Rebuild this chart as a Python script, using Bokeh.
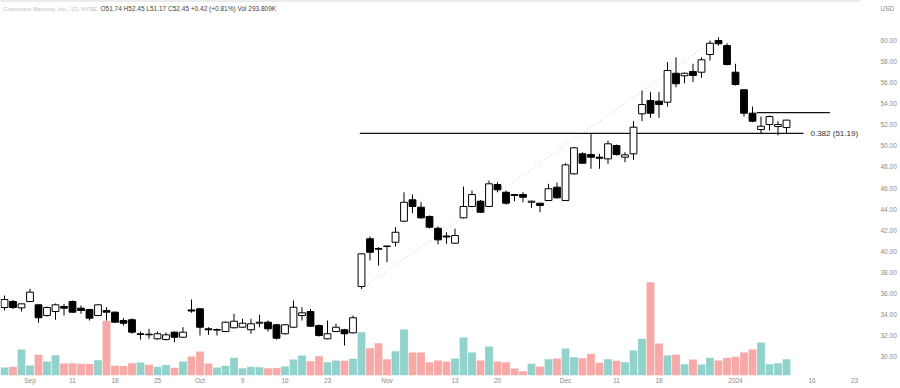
from bokeh.plotting import figure
from bokeh.models import Range1d, FixedTicker, ColumnDataSource, NumeralTickFormatter
from bokeh.embed import file_html
from bokeh.resources import INLINE
from bokeh.core.properties import value

# ---------------- data (daily bars, 29 Aug 2023 .. 10 Jan 2024) ----------------
opens = [34.65, 35.22, 34.62, 35.22, 34.91, 33.89, 34.27, 34.75, 35.22, 34.59,
         34.46, 33.89, 34.37, 34.21, 33.42, 33.49, 32.09, 32.12, 31.68, 31.61,
         32.31, 31.83, 34.42, 34.53, 32.63, 32.50, 32.37, 32.73, 32.78, 32.54,
         33.16, 33.26, 33.01, 32.16, 32.78, 33.89, 34.27, 32.94, 31.68, 32.37,
         32.54, 32.25, 36.65, 41.18, 40.26, 40.49, 40.85, 42.85, 44.88, 44.18,
         43.30, 42.18, 41.44, 40.76, 43.17, 44.25, 44.75, 44.25, 46.33, 45.60,
         45.38, 45.38, 44.65, 44.56, 44.81, 46.08, 44.81, 47.35, 49.25, 49.18,
         48.93, 48.77, 50.04, 48.93, 49.25, 53.05, 54.31, 54.25, 54.15, 56.90,
         56.66, 57.07, 57.00, 58.68, 60.01, 59.53, 57.00, 55.33, 53.11, 51.56,
         52.03, 51.84, 51.74]
highs = [35.79, 35.37, 35.03, 36.43, 34.94, 34.75, 35.03, 35.00, 35.32, 34.84,
         34.51, 34.94, 34.68, 34.27, 33.64, 33.64, 32.37, 32.63, 32.37, 32.28,
         32.37, 32.78, 35.41, 34.61, 32.78, 32.66, 33.32, 34.06, 33.58, 33.58,
         33.96, 33.42, 33.11, 33.09, 35.32, 34.68, 34.53, 33.04, 33.42, 33.11,
         32.63, 33.89, 39.83, 41.40, 40.38, 40.54, 42.28, 45.60, 45.38, 44.65,
         43.39, 42.35, 41.80, 42.13, 46.14, 45.76, 44.86, 46.71, 46.55, 45.76,
         45.43, 45.60, 44.81, 44.58, 46.40, 46.52, 48.36, 49.90, 49.40, 51.21,
         49.25, 50.51, 50.13, 49.40, 52.35, 55.26, 55.10, 55.10, 57.95, 58.42,
         56.97, 57.80, 58.42, 60.01, 60.32, 59.75, 57.80, 55.36, 53.74, 52.79,
         52.89, 52.35, 52.45]
lows = [34.37, 34.51, 34.27, 35.18, 33.20, 33.80, 33.49, 33.89, 34.15, 34.06,
        33.42, 33.85, 33.42, 33.20, 32.94, 32.16, 31.61, 31.68, 31.61, 31.52,
        31.36, 31.76, 34.15, 31.99, 32.06, 31.99, 32.33, 32.66, 32.73, 32.16,
        32.78, 32.37, 31.61, 32.09, 32.73, 33.42, 32.80, 31.90, 31.63, 32.33,
        31.04, 32.18, 36.42, 39.12, 38.64, 38.96, 40.45, 42.75, 43.61, 43.08,
        42.16, 40.64, 40.70, 40.73, 43.11, 44.18, 43.63, 44.20, 45.60, 44.43,
        44.75, 44.65, 44.12, 43.70, 44.77, 45.00, 44.77, 47.28, 48.30, 47.83,
        47.83, 48.30, 49.09, 48.45, 48.68, 52.35, 52.67, 52.67, 53.74, 55.57,
        55.95, 56.05, 56.47, 58.11, 59.53, 57.64, 55.74, 52.79, 52.25, 51.15,
        51.46, 50.99, 51.17]
closes = [35.41, 34.65, 35.00, 36.11, 33.68, 34.65, 34.91, 34.59, 34.21, 34.37,
          33.64, 34.91, 34.21, 33.26, 33.16, 32.31, 32.16, 32.06, 32.16, 32.06,
          31.83, 32.31, 34.32, 32.78, 32.54, 32.56, 33.26, 33.35, 33.16, 33.11,
          33.26, 32.63, 31.74, 33.01, 34.68, 34.15, 32.88, 31.99, 32.16, 32.78,
          32.16, 33.68, 39.75, 39.90, 40.19, 40.45, 41.80, 44.65, 44.25, 43.17,
          42.28, 41.08, 41.35, 41.49, 44.25, 45.38, 43.70, 46.40, 45.83, 44.56,
          45.29, 45.13, 44.75, 44.34, 45.93, 45.07, 48.20, 49.82, 48.36, 48.93,
          48.83, 50.20, 49.18, 49.15, 51.78, 53.93, 53.11, 53.93, 57.16, 55.90,
          56.90, 56.69, 58.18, 59.75, 59.70, 57.73, 55.83, 53.11, 52.35, 51.87,
          52.79, 52.03, 52.45]
volumes_k = [144, 157, 468, 180, 373, 252, 365, 216, 221, 211,
             208, 275, 985, 175, 172, 221, 234, 193, 157, 190,
             139, 252, 342, 432, 216, 144, 175, 319, 131, 157,
             149, 131, 133, 162, 288, 360, 257, 347, 239, 270,
             265, 301, 779, 491, 581, 293, 437, 828, 414, 412,
             239, 270, 252, 306, 684, 414, 270, 522, 252, 239,
             126, 77, 211, 162, 293, 306, 486, 329, 311, 391,
             229, 293, 265, 239, 450, 661, 1679, 576, 360, 373,
             203, 288, 198, 319, 270, 319, 337, 414, 468, 594,
             203, 221, 293.809]

x_ticks = [3, 8, 13, 18, 23, 28, 33, 38, 45, 53, 58, 66, 72, 77, 86, 95, 100]
x_tick_labels = ["Sep", "11", "18", "25", "Oct", "9", "16", "23", "Nov", "13",
                 "20", "Dec", "11", "18", "2024", "16", "23"]
y_ticks = [30, 32, 34, 36, 38, 40, 42, 44, 46, 48, 50, 52, 54, 56, 58, 60]
currency_label = "USD"
currency_pos = 63.05

fib_ratio = 0.382
fib_low_bar, fib_high_bar = 42, 84
fib_end_bar = 94
resistance_level = 53.17
resistance_start, resistance_end = 88.5, 97.1

title_name = "Customers Bancorp, Inc., 1D, NYSE"

TEAL = "#92d2cc"
PINK = "#f7a9a7"
FONT = "Liberation Sans"

# ---------------- derived ----------------
n = len(opens)
xs = list(range(n))
up = [c >= o for o, c in zip(opens, closes)]
src = ColumnDataSource(dict(
    x=xs, o=opens, h=highs, l=lows, c=closes,
    top=[max(o, c) for o, c in zip(opens, closes)],
    bot=[min(o, c) for o, c in zip(opens, closes)],
    fill=["#ffffff" if u else "#000000" for u in up],
    vol=volumes_k,
    vcol=[TEAL if u else PINK for u in up],
))

X0, X1 = -0.4706, 100.706
Y0, Y1 = 28.196, 63.81
p = figure(width=900, height=388, output_backend="svg", toolbar_location=None,
           x_range=Range1d(X0, X1), y_range=Range1d(Y0, Y1),
           y_axis_location="right",
           min_border_left=0, min_border_top=0, min_border_right=40, min_border_bottom=13)
p.extra_y_ranges = {"vol": Range1d(0, 6750)}
p.background_fill_color = "#ffffff"
p.border_fill_color = "#ffffff"
p.outline_line_color = None
p.xgrid.visible = False
p.ygrid.visible = False

# thin top border of the chart pane
p.line([X0, X1], [Y1, Y1], line_color="#d9d9d9", line_width=2)

# volume
p.vbar(x="x", width=0.92, top="vol", bottom=0, y_range_name="vol",
       fill_color="vcol", line_color=None, source=src)

# fib trend (dotted) and levels
lo = lows[fib_low_bar]
hi = highs[fib_high_bar]
fib_level = hi - fib_ratio * (hi - lo)
p.line([fib_low_bar, fib_high_bar], [lo, hi], line_color="#c4c4c4",
       line_dash="1 3", line_width=1)
p.line([fib_low_bar - 0.2, fib_end_bar], [fib_level, fib_level], line_color="#111111", line_width=1.2)
p.line([resistance_start, resistance_end], [resistance_level, resistance_level],
       line_color="#111111", line_width=1.2)
p.text(x=[fib_end_bar + 0.82], y=[fib_level], text=[f"{fib_ratio:.3f} ({fib_level:.2f}) -"],
       text_font=value(FONT), text_font_size="8px", text_color="#333333",
       text_align="left", text_baseline="middle")

# candles
p.segment(x0="x", y0="h", x1="x", y1="l", line_color="#000000", line_width=1, source=src)
p.vbar(x="x", width=0.8, top="top", bottom="bot", fill_color="fill",
       line_color="#000000", line_width=1, source=src)

# header
chg = closes[-1] - closes[-2]
pct = chg / closes[-2] * 100
header = (f"O{opens[-1]:.2f} H{highs[-1]:.2f} L{lows[-1]:.2f} C{closes[-1]:.2f} "
          f"{chg:+.2f} ({pct:+.2f}%) Vol {volumes_k[-1]:.3f}K")
p.text(x=[-0.118], y=[63.05], text=[title_name], text_font=value(FONT),
       text_font_size="5.8px", text_color="#c0c0c0", text_align="left", text_baseline="middle")
p.text(x=[11.29], y=[63.05], text=[header], text_font=value(FONT),
       text_font_size="6.5px", text_color="#444444", text_align="left", text_baseline="middle")

# axes
p.xaxis.ticker = FixedTicker(ticks=x_ticks)
p.xaxis.major_label_overrides = {t: s for t, s in zip(x_ticks, x_tick_labels)}
p.xaxis.axis_line_color = None
p.xaxis.major_tick_line_color = None
p.xaxis.minor_tick_line_color = None
p.xaxis.major_label_text_font = FONT
p.xaxis.major_label_text_font_size = "6.5px"
p.xaxis.major_label_text_color = "#8c8c8c"
p.xaxis.major_label_standoff = -5

p.yaxis.ticker = FixedTicker(ticks=y_ticks + [currency_pos])
p.yaxis.formatter = NumeralTickFormatter(format="0.00")
p.yaxis.major_label_overrides = {currency_pos: currency_label}
p.yaxis.axis_line_color = None
p.yaxis.major_tick_line_color = None
p.yaxis.minor_tick_line_color = None
p.yaxis.major_label_text_font = FONT
p.yaxis.major_label_text_font_size = "6.5px"
p.yaxis.major_label_text_color = "#8c8c8c"
p.yaxis.major_label_standoff = 14

open("out.html", "w").write(file_html(p, INLINE))
